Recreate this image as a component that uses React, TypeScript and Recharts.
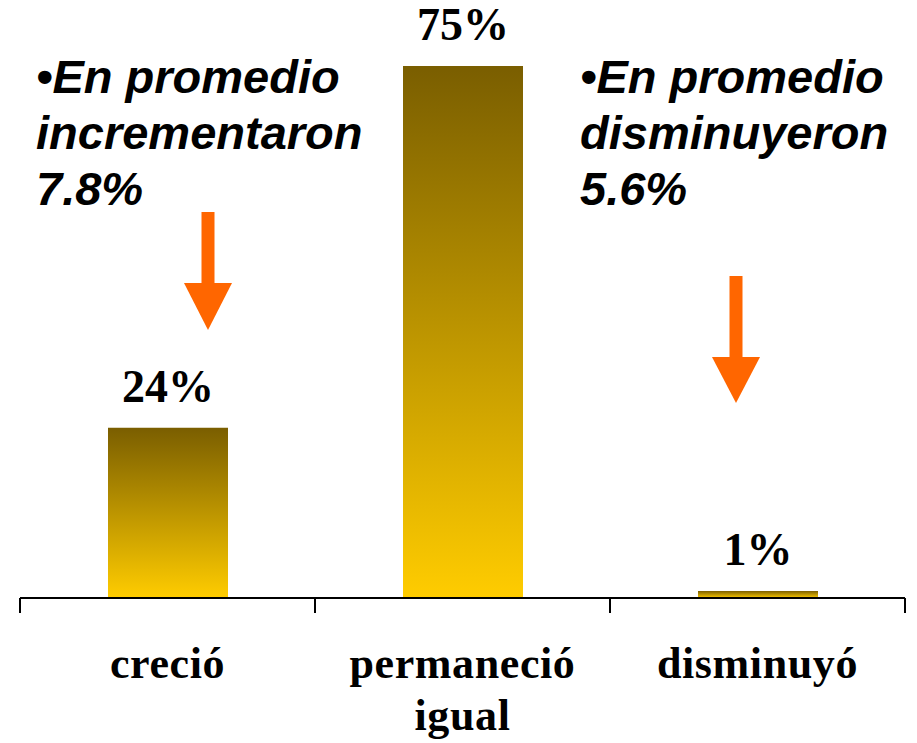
import { BarChart, Bar, XAxis, YAxis, LabelList, Cell } from 'recharts';

// values (percent of cases)
const categories = ['creció', 'permaneció igual', 'disminuyó'];
const shares = [24, 75, 1];
const shareLabels = ['24%', '75%', '1%'];
const axisLabelLines = [['creció'], ['permaneció', 'igual'], ['disminuyó']];

const leftNote = ['•En promedio', 'incrementaron', '7.8%'];
const rightNote = ['•En promedio', 'disminuyeron', '5.6%'];

const data = categories.map((name, i) => ({ name, value: shares[i], label: shareLabels[i] }));

const SERIF = '"Liberation Serif", "Times New Roman", serif';
const SANS = '"Liberation Sans", Arial, sans-serif';
const ARROW = '#ff6600';

const CategoryTick = ({ x, y, payload, index }: any) => {
  const half = payload?.offset ?? 0;
  const lines = axisLabelLines[index] ?? [payload.value];
  const last = index === categories.length - 1;
  return (
    <g>
      <line x1={x - half} x2={x - half} y1={y} y2={y + 15} stroke="#000" strokeWidth={2} />
      {last && <line x1={x + half} x2={x + half} y1={y} y2={y + 15} stroke="#000" strokeWidth={2} />}
      <text
        x={x}
        y={y + 80}
        textAnchor="middle"
        fontFamily={SERIF}
        fontWeight="bold"
        fontSize={44}
        letterSpacing={0.6}
        fill="#000"
      >
        {lines.map((l: string, i: number) => (
          <tspan key={i} x={x} dy={i === 0 ? 0 : 52}>{l}</tspan>
        ))}
      </text>
    </g>
  );
};

const Note = ({ x, lines }: { x: number; lines: string[] }) => (
  <text x={x} y={93} fontFamily={SANS} fontWeight="bold" fontStyle="italic" fontSize={47} fill="#000">
    {lines.map((l, i) => (
      <tspan key={i} x={x} dy={i === 0 ? 0 : 56}>{l}</tspan>
    ))}
  </text>
);

const DownArrow = ({ cx, top, neck, tip }: { cx: number; top: number; neck: number; tip: number }) => (
  <g fill={ARROW}>
    <rect x={cx - 6.5} y={top} width={13} height={neck - top} />
    <polygon points={`${cx - 24},${neck} ${cx + 24},${neck} ${cx},${tip}`} />
  </g>
);

export default function App() {
  return (
    <div style={{ position: 'absolute', left: 0, top: 0, width: 917, height: 743, background: '#fff' }}>
      <BarChart
        width={917}
        height={743}
        data={data}
        margin={{ top: 66, right: 12, bottom: 0, left: 20 }}
      >
        <defs>
          <linearGradient id="barFill" x1="0" y1="0" x2="0" y2="1">
            <stop offset="0%" stopColor="#7a5e00" />
            <stop offset="100%" stopColor="#ffcc00" />
          </linearGradient>
        </defs>
        <YAxis hide domain={[0, 75]} />
        <XAxis
          dataKey="name"
          height={145}
          axisLine={{ stroke: '#000', strokeWidth: 2 }}
          tickLine={false}
          tickSize={0}
          tickMargin={0}
          interval={0}
          tick={<CategoryTick />}
        />
        <Bar dataKey="value" barSize={120} isAnimationActive={false}>
          {data.map((d, i) => (
            <Cell key={i} fill="url(#barFill)" />
          ))}
          <LabelList
            dataKey="label"
            position="top"
            offset={26}
            fill="#000"
            fontFamily={SERIF}
            fontWeight="bold"
            fontSize={46}
          />
        </Bar>
      </BarChart>
      <svg width={917} height={743} style={{ position: 'absolute', left: 0, top: 0, pointerEvents: 'none' }}>
        <Note x={36} lines={leftNote} />
        <Note x={580} lines={rightNote} />
        <DownArrow cx={208} top={212} neck={283} tip={330} />
        <DownArrow cx={736} top={276} neck={357} tip={403} />
      </svg>
    </div>
  );
}
